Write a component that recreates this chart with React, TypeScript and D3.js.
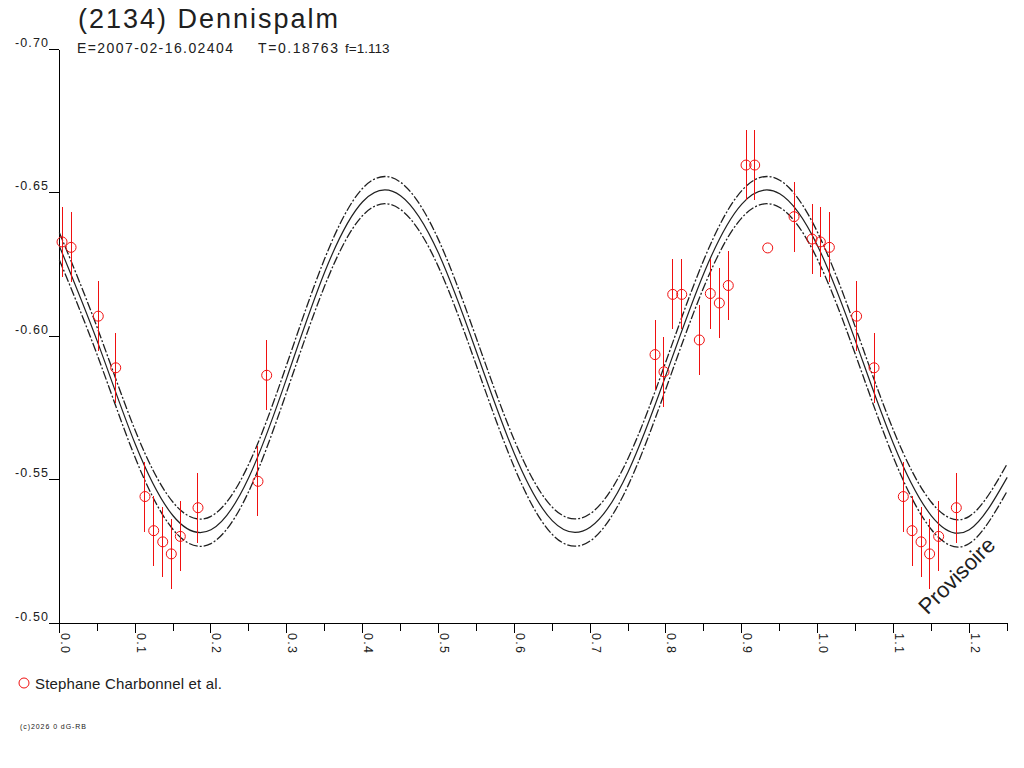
import * as d3 from "d3"

const TITLE = "(2134) Dennispalm"
const SUBTITLE = ["E=2007-02-16.02404", "T=0.18763", "f=1.113"]
const LEGEND = "Stephane Charbonnel et al."
const COPYRIGHT = "(c)2026 0 dG-RB"

const Y_TICKS = [-0.7, -0.65, -0.6, -0.55, -0.5]
const Y_LABELS = ["-0.70", "-0.65", "-0.60", "-0.55", "-0.50"]
const X_MAJOR = [0, 0.1, 0.2, 0.3, 0.4, 0.5, 0.6, 0.7, 0.8, 0.9, 1.0, 1.1, 1.2]
const X_LABELS = ["0.0", "0.1", "0.2", "0.3", "0.4", "0.5", "0.6", "0.7", "0.8", "0.9", "1.0", "1.1", "1.2"]
const X_MINOR = [0.05, 0.15, 0.25, 0.35, 0.45, 0.55, 0.65, 0.75, 0.85, 0.95, 1.05, 1.15, 1.25]

// fitted light curve, every 0.05 in phase
const CURVE_PHASE = [
  0, 0.05, 0.1, 0.15, 0.2, 0.25, 0.3, 0.35, 0.4, 0.45, 0.5, 0.55, 0.6,
  0.65, 0.7, 0.75, 0.8, 0.85, 0.9, 0.95, 1.0, 1.05, 1.1, 1.15, 1.2, 1.25,
]
const CURVE_MID = [
  -0.6315, -0.5983, -0.5625, -0.5374, -0.5325, -0.5508, -0.5855, -0.6224, -0.6469,
  -0.649, -0.629, -0.5946, -0.5591, -0.5357, -0.5334, -0.5527, -0.5865, -0.622,
  -0.6461, -0.6497, -0.6315, -0.5983, -0.5625, -0.5374, -0.5325, -0.5508,
]
const CURVE_HI = [
  -0.6362, -0.603, -0.5672, -0.5421, -0.5372, -0.5555, -0.5902, -0.6271, -0.6516,
  -0.6537, -0.6337, -0.5993, -0.5638, -0.5404, -0.5381, -0.5574, -0.5912, -0.6267,
  -0.6508, -0.6544, -0.6362, -0.603, -0.5672, -0.5421, -0.5372, -0.5555,
]
const CURVE_LO = [
  -0.6267, -0.5935, -0.5577, -0.5326, -0.5277, -0.546, -0.5807, -0.6176, -0.6421,
  -0.6442, -0.6242, -0.5898, -0.5543, -0.5309, -0.5286, -0.5479, -0.5817, -0.6172,
  -0.6413, -0.6449, -0.6267, -0.5935, -0.5577, -0.5326, -0.5277, -0.546,
]

// observations (phase 0..1), repeated past 1.0 up to 1.25
const OBS_PHASE = [
  0.0036, 0.0155, 0.0514, 0.0744, 0.113, 0.1245, 0.1364, 0.1477, 0.1596, 0.1829,
  0.262, 0.2735, 0.7856, 0.7974, 0.8089, 0.8208, 0.844, 0.8585, 0.8704, 0.8822,
  0.9056, 0.917, 0.9342, 0.9689, 0.9926,
]
const OBS_MAG = [
  -0.6329, -0.631, -0.607, -0.589, -0.5441, -0.5322, -0.5283, -0.5241, -0.5302, -0.5402,
  -0.5494, -0.5864, -0.5936, -0.5876, -0.6146, -0.6146, -0.5987, -0.6149, -0.6116, -0.6177,
  -0.6597, -0.6597, -0.6308, -0.6417, -0.6339,
]
const OBS_ERR = [
  0.0122, 0.0122, 0.0122, 0.0122, 0.0122, 0.0122, 0.0122, 0.0122, 0.0122, 0.0122,
  0.0122, 0.0122, 0.0122, 0.0122, 0.0122, 0.0122, 0.0122, 0.0122, 0.0122, 0.0122,
  0.0122, 0.0122, 0, 0.0122, 0.0122,
]

const FONT = "'Liberation Sans', Arial, sans-serif"
const RED = "#f01010"
const INK = "#202020"

export default function App() {
  const x = d3.scaleLinear().domain([0, 1.25]).range([59.3, 1007.2])
  const y = d3.scaleLinear().domain([-0.7, -0.5]).range([49.5, 623])

  const line = (vals: number[]) =>
    d3
      .line<number>()
      .x((_, i) => x(CURVE_PHASE[i]))
      .y((d) => y(d))
      .curve(d3.curveNatural)(vals) ?? ""

  const obs: { p: number; m: number; e: number }[] = []
  OBS_PHASE.forEach((p, i) => {
    obs.push({ p, m: OBS_MAG[i], e: OBS_ERR[i] })
    if (p + 1 <= 1.25) obs.push({ p: p + 1, m: OBS_MAG[i], e: OBS_ERR[i] })
  })

  const x0 = x(0)
  const yb = y(-0.5)

  return (
    <svg
      width={1024}
      height={768}
      style={{ position: "absolute", left: 0, top: 0, background: "#fff" }}
      fontFamily={FONT}
    >
      <text x={78} y={28} fontSize={27} fill={INK} textLength={260} lengthAdjust="spacing">
        {TITLE}
      </text>
      <text x={77} y={53} fontSize={14} fill={INK} textLength={156} lengthAdjust="spacing">
        {SUBTITLE[0]}
      </text>
      <text x={258} y={53} fontSize={14} fill={INK} textLength={80} lengthAdjust="spacing">
        {SUBTITLE[1]}
      </text>
      <text x={345} y={53} fontSize={13.5} fill={INK}>
        {SUBTITLE[2]}
      </text>

      {/* axes */}
      <g stroke="#000" strokeWidth={1} shapeRendering="crispEdges">
        <line x1={x0} x2={x0} y1={y(-0.7)} y2={yb} />
        <line x1={49.3} x2={x(1.25)} y1={yb} y2={yb} />
        {Y_TICKS.map((t) => (
          <line key={t} x1={49.3} x2={x0} y1={y(t)} y2={y(t)} />
        ))}
        {X_MAJOR.map((t) => (
          <line key={t} x1={x(t)} x2={x(t)} y1={yb} y2={yb + 10} />
        ))}
        {X_MINOR.map((t) => (
          <line key={t} x1={x(t)} x2={x(t)} y1={yb} y2={yb + 8} />
        ))}
      </g>
      {Y_TICKS.map((t, i) => (
        <text
          key={t}
          x={48}
          y={y(t) - 2.5}
          fontSize={12.5}
          textAnchor="end"
          fill={INK}
          textLength={33}
          lengthAdjust="spacing"
        >
          {Y_LABELS[i]}
        </text>
      ))}
      {X_MAJOR.map((t, i) => (
        <text
          key={t}
          transform={`translate(${x(t) + 1.5},${yb + 10}) rotate(90)`}
          fontSize={12.5}
          fill={INK}
          textLength={20}
          lengthAdjust="spacing"
        >
          {X_LABELS[i]}
        </text>
      ))}

      {/* fit curves */}
      <g fill="none" stroke={INK}>
        <path d={line(CURVE_HI)} strokeWidth={1.3} strokeDasharray="9 2 2 2" />
        <path d={line(CURVE_MID)} strokeWidth={1.2} />
        <path d={line(CURVE_LO)} strokeWidth={1.3} strokeDasharray="9 2 2 2" />
      </g>

      {/* observations */}
      <g stroke={RED} fill="none" strokeWidth={1}>
        {obs.map((d, i) => (
          <g key={i}>
            {d.e > 0 && (
              <line
                x1={x(d.p)}
                x2={x(d.p)}
                y1={y(d.m - d.e)}
                y2={y(d.m + d.e)}
                shapeRendering="crispEdges"
              />
            )}
            <circle cx={x(d.p)} cy={y(d.m)} r={5} />
          </g>
        ))}
      </g>

      <text
        transform="translate(962,581) rotate(-45)"
        fontSize={22}
        textAnchor="middle"
        fill={INK}
      >
        Provisoire
      </text>

      {/* legend */}
      <circle cx={24} cy={683} r={5} fill="none" stroke={RED} />
      <text x={35} y={689} fontSize={15} fill={INK} textLength={187} lengthAdjust="spacing">
        {LEGEND}
      </text>
      <text
        x={20}
        y={729}
        fontSize={7}
        fill={INK}
        textLength={66}
        lengthAdjust="spacing"
      >
        {COPYRIGHT}
      </text>
    </svg>
  )
}
